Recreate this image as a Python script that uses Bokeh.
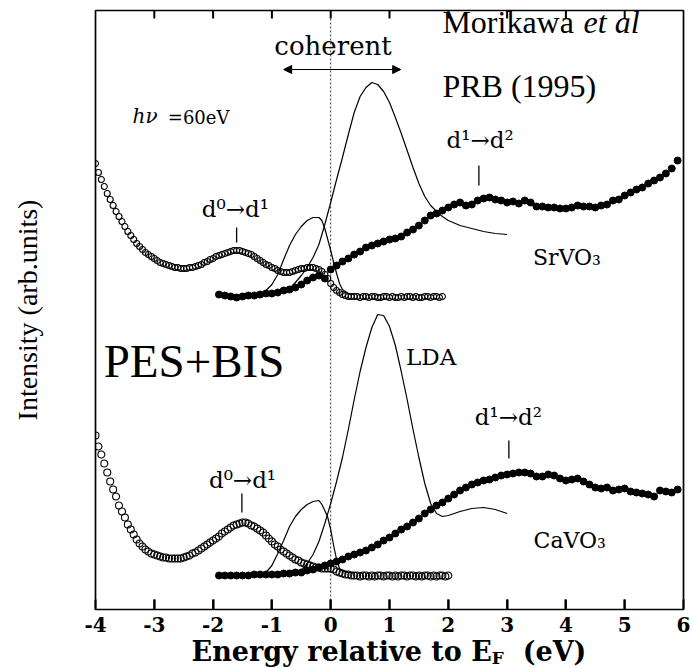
from bokeh.plotting import figure
from bokeh.models import Label, Arrow, NormalHead, Span, FixedTicker, Div
from bokeh.layouts import column
from bokeh.embed import file_html
from bokeh.resources import INLINE

# ---------------- data (energies in eV, intensity in arb. units) ----------------
x_ticks = [-4, -3, -2, -1, 0, 1, 2, 3, 4, 5, 6]
x_tick_labels = ["-4", "-3", "-2", "-1", "0", "1", "2", "3", "4", "5", "6"]

pes_E = [-4.00, -3.95, -3.90, -3.85, -3.80, -3.75, -3.70, -3.65, -3.60, -3.55,
         -3.50, -3.45, -3.40, -3.35, -3.30, -3.25, -3.20, -3.15, -3.10, -3.05,
         -3.00, -2.95, -2.90, -2.85, -2.80, -2.75, -2.70, -2.65, -2.60, -2.55,
         -2.50, -2.45, -2.40, -2.35, -2.30, -2.25, -2.20, -2.15, -2.10, -2.05,
         -2.00, -1.95, -1.90, -1.85, -1.80, -1.75, -1.70, -1.65, -1.60, -1.55,
         -1.50, -1.45, -1.40, -1.35, -1.30, -1.25, -1.20, -1.15, -1.10, -1.05,
         -1.00, -0.95, -0.90, -0.85, -0.80, -0.75, -0.70, -0.65, -0.60, -0.55,
         -0.50, -0.45, -0.40, -0.35, -0.30, -0.25, -0.20, -0.15, -0.10, -0.05,
         0.00, 0.05, 0.10, 0.15, 0.20, 0.25, 0.30, 0.35, 0.40, 0.45,
         0.50, 0.55, 0.60, 0.65, 0.70, 0.75, 0.80, 0.85, 0.90, 0.95,
         1.00, 1.05, 1.10, 1.15, 1.20, 1.25, 1.30, 1.35, 1.40, 1.45,
         1.50, 1.55, 1.60, 1.65, 1.70, 1.75, 1.80, 1.85, 1.90, 1.95,
         2.00]

# SrVO3 photoemission (open circles), -4.00 .. 1.90 eV
sr_pes_I = [446, 437, 430, 423, 416, 410, 404, 398, 393, 388,
            383, 378, 374, 370, 366, 363, 360, 357, 355, 353,
            351, 349, 347, 346, 345, 344, 343, 342, 342, 341,
            341, 341, 342, 342, 343, 344, 345, 347, 348, 350,
            351, 353, 354, 355, 356, 357, 358, 359, 359, 359,
            358, 357, 356, 355, 353, 351, 349, 347, 345, 344,
            342, 341, 339, 338, 337, 337, 337, 338, 339, 340,
            341, 341, 342, 342, 342, 341, 340, 338, 335, 331,
            326, 322, 319, 317, 315, 314, 313, 313, 313, 313,
            312, 313, 313, 312, 313, 313, 312, 312, 313, 313,
            312, 313, 312, 312, 313, 312, 313, 313, 312, 313,
            312, 312, 313, 313, 312, 313, 313, 312, 313]
sr_pes_E = pes_E[:len(sr_pes_I)]

# CaVO3 photoemission (open circles), -4.00 .. 2.00 eV
ca_pes_I = [174, 163, 155, 146, 137, 128, 120, 113, 104, 98,
            92, 85, 80, 75, 70, 66, 63, 60, 58, 56,
            55, 54, 53, 52, 52, 51, 51, 51, 51, 51,
            52, 53, 54, 56, 57, 59, 61, 63, 65, 67,
            69, 71, 73, 76, 78, 80, 82, 84, 85, 86,
            87, 87, 86, 84, 83, 81, 79, 77, 74, 71,
            68, 65, 63, 60, 58, 56, 54, 52, 50, 49,
            47, 46, 45, 44, 43, 42, 42, 41, 41, 41,
            41, 40, 38, 37, 36, 35, 35, 34, 34, 34,
            33, 34, 34, 33, 34, 33, 34, 34, 33, 34,
            34, 33, 34, 33, 34, 34, 33, 34, 34, 33,
            34, 33, 34, 34, 33, 34, 33, 34, 34, 33,
            34]
ca_pes_E = pes_E[:len(ca_pes_I)]

bis_E = [-1.9, -1.8, -1.7, -1.6, -1.5, -1.4, -1.3, -1.2, -1.1, -1.0,
         -0.9, -0.8, -0.7, -0.6, -0.5, -0.4, -0.3, -0.2, -0.1, 0.0,
         0.1, 0.2, 0.3, 0.4, 0.5, 0.6, 0.7, 0.8, 0.9, 1.0,
         1.1, 1.2, 1.3, 1.4, 1.5, 1.6, 1.7, 1.8, 1.9, 2.0,
         2.1, 2.2, 2.3, 2.4, 2.5, 2.6, 2.7, 2.8, 2.9, 3.0,
         3.1, 3.2, 3.3, 3.4, 3.5, 3.6, 3.7, 3.8, 3.9, 4.0,
         4.1, 4.2, 4.3, 4.4, 4.5, 4.6, 4.7, 4.8, 4.9, 5.0,
         5.1, 5.2, 5.3, 5.4, 5.5, 5.6, 5.7, 5.8, 5.9]

# SrVO3 inverse photoemission (filled circles)
sr_bis_I = [315, 314, 313, 312, 313, 314, 314, 315, 316, 316,
            317, 319, 320, 322, 325, 329, 332, 334, 331, 340,
            344, 348, 351, 355, 358, 362, 364, 366, 368, 370,
            371, 373, 377, 380, 384, 389, 394, 396, 399, 402,
            405, 407, 404, 405, 409, 411, 412, 410, 409, 407,
            408, 406, 409, 407, 403, 403, 402, 402, 401, 401,
            402, 404, 403, 403, 402, 404, 405, 409, 410, 414,
            417, 420, 422, 426, 429, 432, 436, 441, 449]

# CaVO3 inverse photoemission (filled circles)
ca_bis_I = [34, 34, 34, 34, 34, 34, 35, 35, 35, 35,
            35, 36, 36, 37, 37, 39, 40, 42, 44, 46,
            48, 50, 53, 55, 57, 59, 62, 65, 69, 72,
            76, 80, 83, 87, 91, 96, 100, 104, 107, 111,
            115, 119, 122, 125, 127, 129, 130, 132, 134, 135,
            136, 137, 137, 136, 133, 133, 135, 134, 131, 129,
            130, 131, 128, 125, 122, 121, 122, 119, 120, 121,
            118, 117, 116, 115, 113, 119, 118, 117, 120]

# LDA curves (solid lines)
sr_occ_E = [-1.15, -1.1, -1.0, -0.9, -0.8, -0.7, -0.6, -0.5, -0.4, -0.3, -0.2,
            -0.15, -0.1, -0.05, 0.0, 0.05, 0.1, 0.15, 0.2, 0.3, 0.4]
sr_occ_I = [316, 319, 325, 335, 350, 364, 375, 383, 389, 392, 392,
            389, 381, 370, 359, 347, 336, 326, 320, 316, 315]

sr_unocc_E = [-0.8, -0.7, -0.6, -0.5, -0.4, -0.3, -0.2, -0.1, 0.0, 0.1, 0.2,
              0.3, 0.4, 0.5, 0.6, 0.7, 0.8, 0.9, 1.0, 1.1, 1.2, 1.3, 1.4,
              1.5, 1.6, 1.7, 1.8, 1.9, 2.0, 2.2, 2.4, 2.6, 2.8, 3.0]
sr_unocc_I = [316, 321, 327, 334, 342, 352, 365, 385, 407, 430, 452,
              475, 497, 513, 522, 527, 525, 518, 507, 492, 476, 459, 442,
              426, 413, 404, 398, 393, 389, 384, 381, 378, 376, 375]

ca_occ_E = [-1.1, -1.0, -0.9, -0.8, -0.7, -0.6, -0.5, -0.4, -0.3, -0.2,
            -0.15, -0.1, -0.05, 0.0, 0.05, 0.1, 0.15, 0.2, 0.3, 0.4]
ca_occ_I = [37, 44, 56, 69, 83, 93, 100, 105, 108, 109,
            105, 99, 92, 80, 64, 50, 41, 38, 37, 36]

ca_unocc_E = [-0.5, -0.4, -0.3, -0.2, -0.1, 0.0, 0.1, 0.2, 0.3, 0.4, 0.5,
              0.6, 0.7, 0.8, 0.9, 1.0, 1.1, 1.2, 1.3, 1.4, 1.5, 1.6, 1.7,
              1.8, 1.9, 2.0, 2.2, 2.4, 2.6, 2.8, 3.0]
ca_unocc_I = [39, 46, 55, 68, 86, 106, 128, 152, 180, 210, 238,
              262, 282, 295, 294, 283, 264, 238, 210, 180, 152, 126, 106,
              96, 93, 94, 98, 101, 102, 100, 96]

# peak markers (energy of d0->d1 / d1->d2 features)
mark_E = [-1.60, 2.52, -1.51, 3.03]
mark_lo = [367, 424, 97, 151]
mark_hi = [382, 444, 116, 169]

# ---------------- figure ----------------
SERIF = "DejaVu Serif"
TIMES = "Liberation Serif"
Y0, Y1 = 0, 599

p = figure(width=692, height=640, x_range=(-4, 6), y_range=(Y0, Y1),
           output_backend="svg", toolbar_location=None,
           min_border_left=95, min_border_right=9, min_border_top=10,
           min_border_bottom=31, margin=0)
p.background_fill_color = "white"
p.border_fill_color = "white"
p.outline_line_color = "black"
p.outline_line_width = 1.7
p.xgrid.visible = False
p.ygrid.visible = False

xa = p.xaxis[0]
xa.ticker = FixedTicker(ticks=x_ticks)
xa.major_label_overrides = {t: s for t, s in zip(x_ticks, x_tick_labels)}
xa.major_tick_in = 10
xa.major_tick_out = 0
xa.major_tick_line_color = "black"
xa.major_tick_line_width = 2
xa.minor_tick_line_color = None
xa.axis_line_color = None
xa.major_label_text_font = SERIF
xa.major_label_text_font_style = "bold"
xa.major_label_text_font_size = "20px"
xa.major_label_text_color = "black"
xa.major_label_standoff = 7

ya = p.yaxis[0]
ya.ticker = FixedTicker(ticks=[])
ya.major_tick_out = 0
ya.major_tick_in = 0
ya.minor_tick_line_color = None
ya.axis_line_color = None
ya.major_label_standoff = 0
ya.axis_label = "Intensity (arb.units)"
ya.axis_label_text_font = TIMES
ya.axis_label_text_font_style = "normal"
ya.axis_label_text_font_size = "28px"
ya.axis_label_text_color = "black"
ya.axis_label_standoff = 53

# inward tick marks on bottom and top edges (at the axis tick positions)
inner = x_ticks[1:-1]
p.segment(x0=inner, y0=[Y0] * len(inner), x1=inner, y1=[Y0 + 10] * len(inner),
          line_color="black", line_width=2)
p.segment(x0=inner, y0=[Y1] * len(inner), x1=inner, y1=[Y1 - 8] * len(inner),
          line_color="black", line_width=2)

p.add_layout(Span(location=0, dimension="height", line_color="black",
                  line_alpha=0.8, line_dash="2 2", line_width=1))

# data
p.scatter(bis_E, sr_bis_I, marker="circle", size=7, color="black")
p.scatter(bis_E, ca_bis_I, marker="circle", size=7, color="black")
p.scatter(sr_pes_E, sr_pes_I, marker="circle", size=6, fill_color=None,
          line_color="black", line_width=1.1)
p.scatter(ca_pes_E, ca_pes_I, marker="circle", size=7, fill_color=None,
          line_color="black", line_width=1.1)
for e, i in [(sr_occ_E, sr_occ_I), (sr_unocc_E, sr_unocc_I),
             (ca_occ_E, ca_occ_I), (ca_unocc_E, ca_unocc_I)]:
    p.line(e, i, line_color="black", line_width=1.2)
p.segment(x0=mark_E, y0=mark_lo, x1=mark_E, y1=mark_hi, line_color="black", line_width=1.3)

# coherent arrow
p.add_layout(Arrow(start=NormalHead(size=8, fill_color="black", line_color="black"),
                   end=NormalHead(size=8, fill_color="black", line_color="black"),
                   x_start=-0.80, y_start=540, x_end=1.19, y_end=540,
                   line_color="black", line_width=1.2))


def lab(x, y, text, size, font=SERIF, style="normal", align="left"):
    # y is the wanted baseline; raise by a fraction of the font size
    p.add_layout(Label(x=x, y=y + 0.36 * size, text=text, text_font=font,
                       text_font_size=f"{size}px", text_font_style=style,
                       text_align=align, text_baseline="alphabetic",
                       text_color="black"))


lab(0.04, 554, "coherent", 26, align="center")
lab(-3.37, 486, "h\u03bd", 20, style="italic")
lab(-2.77, 486, "=60eV", 18)
lab(-1.62, 392, "d\u2070\u2192d\u00b9", 23, align="center")
lab(2.54, 461, "d\u00b9\u2192d\u00b2", 23, align="center")
lab(3.44, 344, "SrVO\u2083", 22)
lab(-3.86, 232, "PES+BIS", 47, font=TIMES)
lab(1.28, 244, "LDA", 23)
lab(-1.50, 121, "d\u2070\u2192d\u00b9", 23, align="center")
lab(3.02, 184, "d\u00b9\u2192d\u00b2", 23, align="center")
lab(3.45, 61, "CaVO\u2083", 22)
lab(1.90, 576, "Morikawa", 32, font=TIMES)
lab(4.30, 576, "et al", 32, font=TIMES, style="italic")
lab(1.90, 512, "PRB (1995)", 32, font=TIMES)

xlabel = Div(
    text=('<div style="width:588px;margin-left:95px;text-align:center;'
          'font-family:\'DejaVu Serif\';font-weight:bold;font-size:27px;'
          'line-height:23px;color:black;white-space:nowrap;">'
          'Energy relative to E<span style="font-size:17px;position:relative;top:3px;">F</span>'
          '&nbsp;&nbsp;(eV)</div>'),
    width=692, height=28, margin=0)

layout = column(p, xlabel, spacing=0)
open("out.html", "w").write(file_html(layout, INLINE))
